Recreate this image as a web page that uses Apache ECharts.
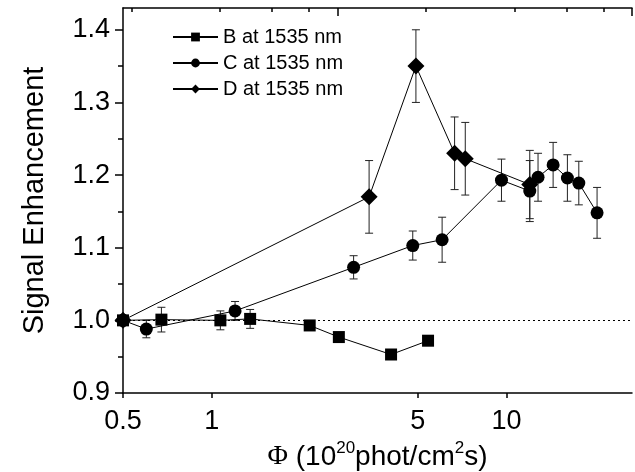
<!DOCTYPE html>
<html>
<head>
<meta charset="utf-8">
<script src="https://cdn.jsdelivr.net/npm/echarts@6/dist/echarts.min.js"></script>
<style>
html,body{margin:0;padding:0;background:#fff;}
#chart{width:635px;height:472px;}
</style>
</head>
<body>
<div id="chart"></div>
<script>
// ---- data ----
const seriesNames = ['B at 1535 nm', 'C at 1535 nm', 'D at 1535 nm'];
const phiB = [0.5, 0.675, 1.07, 1.35, 2.15, 2.70, 4.06, 5.42];
const valB = [1.000, 1.001, 1.000, 1.002, 0.993, 0.977, 0.953, 0.972];
const errB = [0, 0.017, 0.013, 0.013, 0, 0, 0, 0];

const phiC = [0.5, 0.60, 1.20, 3.03, 4.81, 6.05, 9.62, 12.0, 12.8, 14.4, 16.1, 17.6, 20.3];
const valC = [1.000, 0.988, 1.013, 1.073, 1.103, 1.111, 1.193, 1.178, 1.197, 1.214, 1.196, 1.189, 1.148];
const errC = [0, 0.012, 0.013, 0.016, 0.020, 0.031, 0.029, 0.042, 0.033, 0.031, 0.032, 0.030, 0.035];

const phiD = [0.5, 3.42, 4.93, 6.67, 7.25, 12.0];
const valD = [1.000, 1.170, 1.350, 1.230, 1.2225, 1.187];
const errD = [0, 0.050, 0.050, 0.050, 0.050, 0.047];

const xTickLabels = [0.5, 1, 5, 10];
const yTickLabels = [0.9, 1.0, 1.1, 1.2, 1.3, 1.4];
const yMinorTicks = [0.95, 1.05, 1.15, 1.25, 1.35];
const topMinorTicks = [1, 2, 3, 4, 10, 20, 30, 40];
const topMajorTicks = [5, 50];
const referenceLevel = 1.005;

// ---- helpers ----
const FONT = 'Liberation Sans, Arial, Helvetica, sans-serif';
function pairs(xs, ys) { return xs.map((x, i) => [x, ys[i]]); }
function errData(xs, ys, es) {
  const out = [];
  xs.forEach((x, i) => { if (es[i] > 0) out.push([x, ys[i] - es[i], ys[i] + es[i]]); });
  return out;
}
function errRender(params, api) {
  const x = api.value(0);
  const lo = api.coord([x, api.value(1)]);
  const hi = api.coord([x, api.value(2)]);
  const w = 4;
  const st = { stroke: '#222', lineWidth: 1 };
  return {
    type: 'group',
    children: [
      { type: 'line', shape: { x1: lo[0], y1: lo[1], x2: hi[0], y2: hi[1] }, style: st },
      { type: 'line', shape: { x1: lo[0] - w, y1: lo[1], x2: lo[0] + w, y2: lo[1] }, style: st },
      { type: 'line', shape: { x1: hi[0] - w, y1: hi[1], x2: hi[0] + w, y2: hi[1] }, style: st }
    ]
  };
}
function errSeries(data) {
  return {
    type: 'custom', renderItem: errRender, data: data, z: 1, silent: true,
    encode: { x: 0, y: [1, 2] }, clip: true
  };
}
function lineSeries(name, data, symbol, size, extra) {
  return Object.assign({
    name: name, type: 'line', data: data, symbol: symbol, symbolSize: size,
    showAllSymbol: true, z: 3,
    itemStyle: { color: '#000' },
    lineStyle: { color: '#000', width: 1 },
    emphasis: { disabled: true },
    animation: false
  }, extra || {});
}

const chart = echarts.init(document.getElementById('chart'), null, { renderer: 'canvas' });
const option = {
  animation: false,
  backgroundColor: '#fff',
  textStyle: { fontFamily: FONT },
  grid: { left: 123, right: 3, top: 8, bottom: 79, containLabel: false, outerBoundsMode: 'none' },
  legend: {
    data: seriesNames,
    orient: 'vertical',
    left: 167, top: 22,
    itemWidth: 45, itemHeight: 11, itemGap: 6,
    textStyle: { fontSize: 20, fontFamily: FONT, color: '#000', padding: [0, 0, 0, 0] },
    inactiveColor: '#000'
  },
  xAxis: [
    {
      type: 'log', logBase: 10, min: 0.5, max: 26.67, position: 'bottom',
      name: '{phi|Φ} (10{sup|20}phot/cm{sup|2}s)',
      nameLocation: 'middle', nameGap: 45,
      nameTextStyle: {
        fontSize: 28, color: '#000', fontFamily: FONT, lineHeight: 34,
        rich: {
          phi: { fontSize: 28, lineHeight: 34, fontFamily: 'Liberation Serif, DejaVu Serif, serif', color: '#000' },
          sup: { fontSize: 17, lineHeight: 17, verticalAlign: 'top', color: '#000', fontFamily: FONT }
        }
      },
      axisLine: { show: true, onZero: false, lineStyle: { color: '#000', width: 1.5 } },
      axisTick: { show: true, inside: false, length: 5, customValues: xTickLabels, lineStyle: { color: '#000', width: 1.5 } },
      axisLabel: {
        show: true, customValues: xTickLabels, margin: 15,
        fontSize: 27, color: '#000', fontFamily: FONT,
        formatter: v => String(+(+v).toPrecision(3))
      },
      splitLine: { show: false }, minorTick: { show: false }
    },
    {
      type: 'log', logBase: 10, min: 0.9375, max: 50, position: 'top',
      axisLine: { show: true, onZero: false, lineStyle: { color: '#000', width: 1.5 } },
      axisTick: { show: true, inside: true, length: 4, customValues: topMinorTicks, lineStyle: { color: '#000', width: 1.5 } },
      axisLabel: { show: false },
      splitLine: { show: false }
    },
    {
      type: 'log', logBase: 10, min: 0.9375, max: 50, position: 'top',
      axisLine: { show: false },
      axisTick: { show: true, inside: true, length: 8, customValues: topMajorTicks, lineStyle: { color: '#000', width: 1.5 } },
      axisLabel: { show: false },
      splitLine: { show: false }
    }
  ],
  yAxis: [
    {
      type: 'value', min: 0.9, max: 1.43, position: 'left',
      name: 'Signal Enhancement', nameLocation: 'middle', nameGap: 74,
      nameTextStyle: { fontSize: 29, color: '#000', fontFamily: FONT },
      axisLine: { show: true, onZero: false, lineStyle: { color: '#000', width: 1.5 } },
      axisTick: { show: true, inside: false, length: 8, customValues: yTickLabels, lineStyle: { color: '#000', width: 1.5 } },
      axisLabel: {
        show: true, customValues: yTickLabels, margin: 13,
        fontSize: 27, color: '#000', fontFamily: FONT,
        formatter: v => (+v).toFixed(1)
      },
      splitLine: { show: false }
    },
    {
      type: 'value', min: 0.9, max: 1.43, position: 'left',
      axisLine: { show: false },
      axisTick: { show: true, inside: false, length: 5, customValues: yMinorTicks, lineStyle: { color: '#000', width: 1.5 } },
      axisLabel: { show: false },
      splitLine: { show: false }
    }
  ],
  series: [
    errSeries(errData(phiB, valB, errB)),
    errSeries(errData(phiC, valC, errC)),
    errSeries(errData(phiD, valD, errD)),
    lineSeries(seriesNames[0], pairs(phiB, valB), 'rect', 12, {
      markLine: {
        silent: true, symbol: 'none', label: { show: false },
        lineStyle: { type: [2, 3], color: '#000', width: 1 },
        data: [{ yAxis: referenceLevel }]
      }
    }),
    lineSeries(seriesNames[1], pairs(phiC, valC), 'circle', 13),
    lineSeries(seriesNames[2], pairs(phiD, valD), 'diamond', 17)
  ]
};
chart.setOption(option);
</script>
</body>
</html>
